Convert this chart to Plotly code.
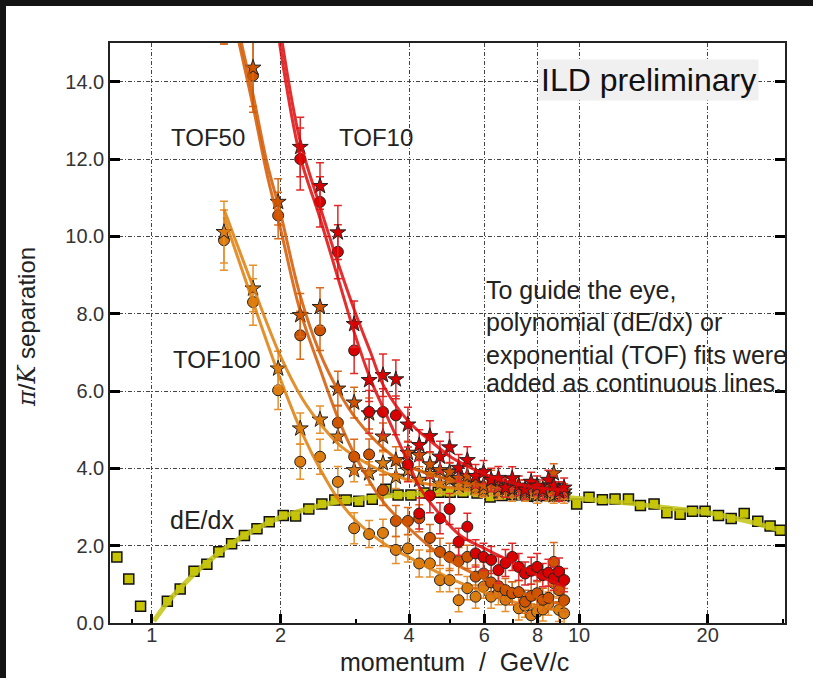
import plotly.graph_objects as go

# ---------------- data ----------------
tof_p = [1.475, 1.725, 1.975, 2.225, 2.475, 2.725, 2.975, 3.225, 3.475, 3.725,
         3.975, 4.225, 4.475, 4.725, 4.975, 5.225, 5.475, 5.725, 5.975, 6.225,
         6.475, 6.725, 6.975, 7.225, 7.475, 7.725, 7.975, 8.225, 8.475, 8.725,
         8.975, 9.225]

tof10_star = [None, None, None, 12.31, 11.3, 10.1, 7.73, 6.28, 6.41, 6.30,
              5.13, 4.6, 4.83, 4.30, 4.54, 4.01, 4.21, 3.8, 3.9, 3.7,
              3.75, 3.5, 3.74, 3.55, 3.45, 3.65, 3.55, 3.45, 3.7, 3.55,
              3.4, 3.5]
tof10_star_err = [0, 0, 0, 0.77, 0.6, 0.7, 0.6, 0.55, 0.55, 0.5,
                  0.45, 0.4, 0.4, 0.4, 0.4, 0.35, 0.35, 0.3, 0.3, 0.3,
                  0.3, 0.25, 0.3, 0.25, 0.25, 0.25, 0.25, 0.25, 0.25, 0.25,
                  0.25, 0.25]
tof10_circ = [None, None, None, 12.0, 10.89, 9.6, 7.05, 5.46, 5.46, 5.37,
              4.1, 2.83, 3.3, 2.71, 2.95, 2.10, 2.49, 1.80, 1.71, 1.63,
              1.37, 1.55, 1.71, 1.45, 1.28, 1.35, 1.45, 1.24, 1.30, 1.15,
              1.33, 1.11]
tof10_circ_err = [0, 0, 0, 0.8, 0.65, 0.7, 0.6, 0.55, 0.6, 0.5,
                  0.45, 0.4, 0.45, 0.4, 0.4, 0.35, 0.35, 0.35, 0.35, 0.35,
                  0.35, 0.35, 0.35, 0.35, 0.3, 0.35, 0.35, 0.3, 0.35, 0.3,
                  0.35, 0.3]

tof50_star = [16.3, 14.36, 10.89, 7.96, 8.17, 6.06, 5.7, 5.42, 4.82, 4.21,
              4.4, 4.34, 4.1, 3.95, 3.9, 3.75, 3.8, 3.6, 3.55, 3.7,
              3.5, 3.55, 3.45, 3.5, 3.4, 3.5, 3.45, 3.4, 3.5, 3.87,
              3.45, 3.4]
tof50_star_err = [1.3, 1.0, 0.6, 0.56, 0.5, 0.45, 0.4, 0.4, 0.35, 0.35,
                  0.3, 0.3, 0.3, 0.3, 0.25, 0.25, 0.25, 0.25, 0.25, 0.25,
                  0.2, 0.2, 0.2, 0.2, 0.2, 0.2, 0.2, 0.2, 0.2, 0.25,
                  0.2, 0.2]
tof50_circ = [16.2, 14.16, 10.54, 7.44, 7.57, 5.18, 4.3, 4.36, 3.44, 2.64,
              2.64, 2.71, 2.2, 1.84, 1.71, 1.6, 1.71, 1.2, 1.28, 1.05,
              0.95, 0.85, 0.77, 0.8, 0.55, 0.7, 0.77, 0.6, 0.65, 1.58,
              0.85, 0.59]
tof50_circ_err = [1.23, 0.95, 0.6, 0.62, 0.52, 0.45, 0.45, 0.4, 0.4, 0.4,
                  0.35, 0.35, 0.35, 0.35, 0.35, 0.35, 0.3, 0.3, 0.3, 0.3,
                  0.3, 0.3, 0.3, 0.3, 0.3, 0.3, 0.3, 0.3, 0.3, 0.5,
                  0.3, 0.3]

tof100_star = [10.11, 8.65, 6.58, 5.03, 5.26, 4.82, 3.95, 3.87, 4.13, 3.78,
               3.95, 3.7, 3.85, 3.6, 3.7, 3.55, 3.6, 3.5, 3.45, 3.5,
               3.4, 3.45, 3.35, 3.4, 3.35, 3.45, 3.3, 3.4, 3.35, 3.3,
               3.35, 3.3]
tof100_star_err = [0.8, 0.6, 0.45, 0.4, 0.35, 0.35, 0.3, 0.3, 0.3, 0.3,
                   0.25, 0.25, 0.25, 0.25, 0.2, 0.2, 0.2, 0.2, 0.2, 0.2,
                   0.2, 0.2, 0.2, 0.2, 0.2, 0.2, 0.2, 0.2, 0.2, 0.2,
                   0.2, 0.2]
tof100_circ = [9.9, 8.30, 6.02, 4.17, 4.30, 3.65, 2.45, 2.30, 2.33, 1.89,
               1.93, 1.54, 1.54, 1.11, 1.11, 0.59, 0.90, 0.68, 0.94, 0.68,
               0.77, 0.6, 0.77, 0.38, 0.45, 0.2, 0.29, 0.35, 0.5, 1.03,
               0.34, 0.25]
tof100_circ_err = [0.78, 0.6, 0.5, 0.45, 0.45, 0.4, 0.4, 0.35, 0.35, 0.35,
                   0.35, 0.35, 0.35, 0.3, 0.3, 0.3, 0.3, 0.3, 0.3, 0.3,
                   0.3, 0.3, 0.3, 0.3, 0.3, 0.3, 0.3, 0.3, 0.3, 0.35,
                   0.3, 0.3]

# fit curves
fit10_star_p = [2.02, 2.22, 2.47, 2.73, 3.0, 3.25, 3.5, 4.0, 4.5, 5.0, 5.5, 6.0, 7.0, 8.0, 9.3]
fit10_star_y = [15.0, 12.5, 10.8, 9.3, 8.0, 7.0, 6.1, 5.2, 4.7, 4.3, 4.05, 3.85, 3.62, 3.5, 3.44]
fit10_circ_p = [1.99, 2.22, 2.47, 2.73, 3.0, 3.25, 3.5, 4.0, 4.24, 4.73, 5.26, 6.0, 6.9, 8.1, 9.3]
fit10_circ_y = [15.0, 12.1, 10.5, 8.9, 7.4, 6.3, 5.5, 4.1, 3.5, 2.8, 2.27, 1.93, 1.6, 1.2, 0.94]
fit50_star_p = [1.62, 1.73, 1.86, 2.0, 2.22, 2.47, 2.75, 3.0, 3.5, 4.0, 5.0, 6.0, 7.0, 8.0, 9.3]
fit50_star_y = [15.0, 13.6, 11.9, 10.6, 8.5, 7.0, 5.95, 5.3, 4.5, 4.05, 3.7, 3.55, 3.45, 3.4, 3.35]
fit50_circ_p = [1.60, 1.73, 1.86, 2.0, 2.22, 2.47, 2.75, 3.0, 3.5, 4.0, 4.5, 5.0, 6.0, 7.0, 8.0, 9.3]
fit50_circ_y = [15.0, 13.3, 11.6, 10.2, 8.1, 6.6, 5.2, 4.3, 3.1, 2.45, 1.95, 1.6, 1.15, 0.85, 0.65, 0.45]
fit100_star_p = [1.475, 1.725, 2.0, 2.25, 2.5, 2.75, 3.0, 3.5, 4.0, 5.0, 6.0, 7.0, 8.0, 9.3]
fit100_star_y = [10.7, 8.7, 6.9, 5.8, 5.1, 4.6, 4.3, 3.9, 3.7, 3.5, 3.42, 3.38, 3.35, 3.3]
fit100_circ_p = [1.475, 1.725, 2.0, 2.25, 2.5, 2.75, 3.0, 3.5, 4.0, 4.5, 5.0, 6.0, 7.0, 8.0, 9.3]
fit100_circ_y = [10.5, 8.3, 6.3, 4.9, 3.9, 3.15, 2.65, 2.05, 1.7, 1.4, 1.15, 0.8, 0.55, 0.42, 0.3]

dedx_p = [0.828, 0.883, 0.941, 1.087, 1.165, 1.255, 1.345, 1.435, 1.537, 1.647,
          1.762, 1.883, 2.03, 2.17, 2.33, 2.50, 2.68, 2.85, 3.05, 3.28,
          3.53, 3.77, 4.04, 4.34, 4.68, 4.99, 5.35, 5.77, 6.19, 6.6,
          7.05, 7.55, 8.1, 8.65, 9.25, 9.87, 10.55, 11.34, 12.14, 13.05,
          13.92, 14.98, 16.05, 17.24, 18.43, 19.72, 21.2, 22.7, 24.35, 26.2,
          28.0, 29.6]
dedx_sep = [1.71, 1.14, 0.43, 0.56, 0.88, 1.34, 1.52, 1.84, 2.05, 2.26,
            2.44, 2.62, 2.78, 2.77, 2.95, 3.08, 3.18, 3.18, 3.15, 3.2,
            3.46, 3.31, 3.31, 3.36, 3.38, 3.38, 3.38, 3.36, 3.26, 3.3,
            3.32, 3.28, 3.3, 3.28, 3.3, 3.08, 3.25, 3.19, 3.21, 3.21,
            3.04, 3.08, 2.85, 2.81, 2.89, 2.89, 2.78, 2.70, 2.83, 2.63,
            2.51, 2.40]
fitdedx_p = [1.01, 1.1, 1.2, 1.3, 1.45, 1.6, 1.8, 2.0, 2.5, 3.0, 4.0, 5.0, 6.0,
             8.0, 10.0, 13.0, 16.0, 20.0, 25.0, 30.0]
fitdedx_y = [0.05, 0.6, 1.05, 1.42, 1.85, 2.18, 2.5, 2.73, 3.05, 3.2, 3.33, 3.36, 3.35,
             3.3, 3.22, 3.1, 2.98, 2.85, 2.62, 2.38]

x_ticks = [1, 2, 4, 6, 8, 10, 20]
x_minor = [0.9, 3, 5, 7, 9, 30]
y_ticks = [0, 2, 4, 6, 8, 10, 12, 14]
y_ticktext = ["0.0", "2.0", "4.0", "6.0", "8.0", "10.0", "12.0", "14.0"]

# ---------------- figure ----------------
W, H = 813, 678
L, R, T, B = 110, 28, 43, 55
PW, PH = W - L - R, H - T - B


def px(xp):
    return (xp - L) / PW


def py(yp):
    return (H - B - yp) / PH


fig = go.Figure()

# dE/dx
fig.add_trace(go.Scatter(x=dedx_p, y=dedx_sep, mode="markers",
                         marker=dict(symbol="square", size=10, color="#c8c400",
                                     line=dict(color="#111", width=1.5)),
                         showlegend=False))
fig.add_trace(go.Scatter(x=fitdedx_p, y=fitdedx_y, mode="lines",
                         line=dict(color="rgba(196,196,20,0.85)", width=5, shape="spline"),
                         showlegend=False))

series = [
    (tof100_circ, tof100_circ_err, tof100_star, tof100_star_err,
     fit100_circ_p, fit100_circ_y, fit100_star_p, fit100_star_y,
     "#dd7d10", "rgba(222,125,10,0.85)", "#e8902c"),
    (tof50_circ, tof50_circ_err, tof50_star, tof50_star_err,
     fit50_circ_p, fit50_circ_y, fit50_star_p, fit50_star_y,
     "#d05400", "rgba(210,88,0,0.85)", "#d86a1c"),
    (tof10_circ, tof10_circ_err, tof10_star, tof10_star_err,
     fit10_circ_p, fit10_circ_y, fit10_star_p, fit10_star_y,
     "#d80000", "rgba(222,10,10,0.85)", "#e02828"),
]

for (cy, ce, sy, se, fcp, fcy, fsp, fsy, mcol, lcol, ecol) in series:
    fig.add_trace(go.Scatter(x=tof_p, y=cy, mode="markers",
                             error_y=dict(type="data", array=ce, color=ecol,
                                          thickness=1.5, width=4),
                             marker=dict(symbol="circle", size=11, color=mcol,
                                         line=dict(color="#222", width=1)),
                             showlegend=False))
    fig.add_trace(go.Scatter(x=tof_p, y=sy, mode="markers",
                             error_y=dict(type="data", array=se, color=ecol,
                                          thickness=1.5, width=4),
                             marker=dict(symbol="star", size=12, color=mcol,
                                         line=dict(color="#222", width=1)),
                             showlegend=False))
    fig.add_trace(go.Scatter(x=fcp, y=fcy, mode="lines",
                             line=dict(color=lcol, width=3, shape="spline"),
                             showlegend=False))
    fig.add_trace(go.Scatter(x=fsp, y=fsy, mode="lines",
                             line=dict(color=lcol, width=3, shape="spline"),
                             showlegend=False))

FONT = "Liberation Sans"
tickfont = dict(family=FONT, size=20, color="#333")


def tfont(size):
    return dict(family=FONT, size=size, color="#222")


fig.update_layout(
    width=W, height=H,
    margin=dict(l=L, r=R, t=T, b=B, pad=0),
    paper_bgcolor="white",
    plot_bgcolor="white",
    showlegend=False,
    xaxis=dict(type="log", range=[-0.098, 1.482],
               tickmode="array", tickvals=x_ticks,
               ticktext=[str(v) for v in x_ticks],
               ticks="inside", ticklen=9, tickwidth=3, tickcolor="#000",
               ticklabelstandoff=-7,
               showline=True, linecolor="#222", linewidth=1.5, mirror=True,
               showgrid=True, gridcolor="#444", gridwidth=1,
               griddash="4px,2px,1px,2px",
               minor=dict(tickmode="array", tickvals=x_minor, ticks="inside",
                          ticklen=4, tickwidth=1.5, tickcolor="#000", showgrid=False),
               tickfont=tickfont, zeroline=False),
    yaxis=dict(range=[0, 15], tickmode="array", tickvals=y_ticks,
               ticktext=y_ticktext,
               ticks="inside", ticklen=10, tickwidth=3, tickcolor="#000",
               showline=True, linecolor="#222", linewidth=1.5, mirror="allticks",
               showgrid=True, gridcolor="#444", gridwidth=1,
               griddash="4px,2px,1px,2px",
               tickfont=tickfont, zeroline=False),
)

# dark slide frame (top and left edges)
fig.add_shape(type="rect", xref="paper", yref="paper",
              x0=px(-5), x1=px(W + 5), y0=py(6), y1=py(-5),
              fillcolor="#141414", line=dict(width=0), layer="below")
fig.add_shape(type="rect", xref="paper", yref="paper",
              x0=px(-5), x1=px(6), y0=py(H + 5), y1=py(-5),
              fillcolor="#141414", line=dict(width=0), layer="below")

ann = [
    dict(text="TOF50", x=px(208), y=py(137), s=24),
    dict(text="TOF10", x=px(376), y=py(137), s=24),
    dict(text="TOF100", x=px(217), y=py(360), s=24),
    dict(text="dE/dx", x=px(202), y=py(520), s=25),
]
for a in ann:
    fig.add_annotation(xref="paper", yref="paper", showarrow=False,
                       xanchor="center", yanchor="middle",
                       text=a["text"], x=a["x"], y=a["y"], font=tfont(a["s"]))

guide_lines = ["To guide the eye,", "polynomial (dE/dx) or",
               "exponential (TOF) fits were", "added as continuous lines."]
guide_y = [290, 322, 355, 383]
for txt, yy in zip(guide_lines, guide_y):
    fig.add_annotation(xref="paper", yref="paper", showarrow=False,
                       x=px(484), y=py(yy), xanchor="left", yanchor="middle",
                       text=txt, font=tfont(25))

fig.add_annotation(xref="paper", yref="paper", showarrow=False,
                   x=px(648), y=py(80), xanchor="center", yanchor="middle",
                   text="ILD preliminary", bgcolor="#f0f0f0", borderpad=2,
                   font=dict(family=FONT, size=32, color="#111"))

fig.add_annotation(xref="paper", yref="paper", showarrow=False,
                   x=px(454), y=py(662), xanchor="center", yanchor="middle",
                   text="momentum  /  GeV/c", font=tfont(25))

fig.add_annotation(xref="paper", yref="paper", showarrow=False,
                   x=px(27), y=py(327), xanchor="center", yanchor="middle",
                   textangle=-90,
                   text='<span style="font-family:DejaVu Serif;font-style:italic">π</span>/'
                        '<span style="font-family:DejaVu Serif;font-style:italic">K</span> separation',
                   font=tfont(24))

fig.write_html("out.html")
